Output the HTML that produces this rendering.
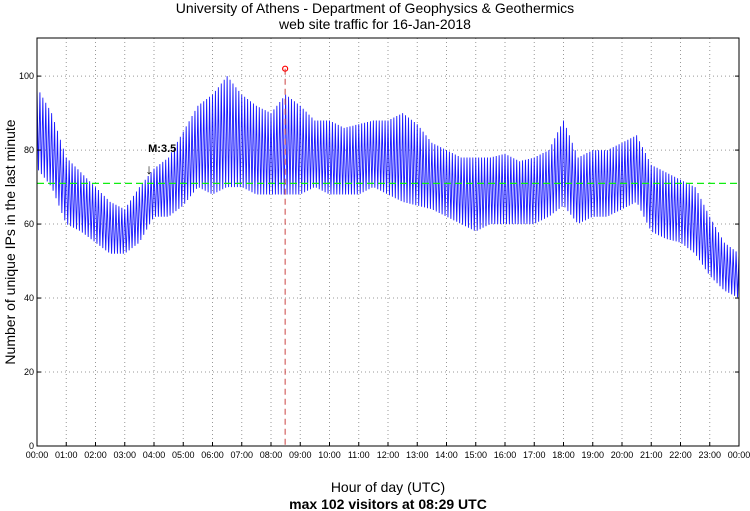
<!DOCTYPE html>
<html><head><meta charset="utf-8"><style>
body{margin:0;background:#fff;}
svg{display:block;font-family:"Liberation Sans",sans-serif;}
</style></head><body>
<svg id="c" width="750" height="511">
<text x="375" y="13" text-anchor="middle" font-size="14">University of Athens - Department of Geophysics &amp; Geothermics</text>
<text x="375" y="29" text-anchor="middle" font-size="14">web site traffic for 16-Jan-2018</text>
<text transform="translate(15,242) rotate(-90)" text-anchor="middle" font-size="14">Number of unique IPs in the last minute</text>
<text x="388" y="492" text-anchor="middle" font-size="14">Hour of day (UTC)</text>
<text x="388" y="509" text-anchor="middle" font-size="14" font-weight="bold">max 102 visitors at 08:29 UTC</text>
<g id="grid"></g><g id="series"></g><g id="overlay"></g><g id="axes"></g>
</svg>
<script>
const yTicks=[0,20,40,60,80,100];
const xTickLabels=["00:00","01:00","02:00","03:00","04:00","05:00","06:00","07:00","08:00","09:00","10:00","11:00","12:00","13:00","14:00","15:00","16:00","17:00","18:00","19:00","20:00","21:00","22:00","23:00","00:00"];
// half-hourly envelope of per-minute values (00:00 .. 24:00)
const lowVals=[75,70,60,58,55,52,52,55,62,62,65,70,68,70,70,68,68,68,68,70,68,68,68,70,68,66,65,64,62,60,58,60,60,60,60,62,65,60,62,62,64,66,58,56,55,52,46,42,40];
const highVals=[97,90,78,74,70,66,64,70,75,78,85,92,95,100,95,92,90,95,92,88,88,86,87,88,88,90,87,82,80,78,78,78,79,77,78,80,88,78,80,80,82,84,76,74,72,70,62,55,52];
const meanVal=71;
const maxMinute=8*60+29, maxVal=102;
const eventMinute=3*60+50, eventLabel="M:3.5";

const L=37,R=739,T=38,B=446,YMAX=110.3;
const xs=m=>L+(R-L)*m/1440, ys=v=>B-(B-T)*v/YMAX;
const NS="http://www.w3.org/2000/svg";
function mk(p,t,a){const e=document.createElementNS(NS,t);for(const k in a)e.setAttribute(k,a[k]);p.appendChild(e);return e;}
const grid=document.getElementById('grid'),axes=document.getElementById('axes'),ser=document.getElementById('series'),ov=document.getElementById('overlay');
yTicks.forEach(v=>{
 if(v>0){const g=mk(grid,'line',{x1:L,x2:R,y1:ys(v),y2:ys(v),stroke:'#999','stroke-dasharray':'1,3','stroke-width':1});
 
 }
 const t=mk(axes,'text',{x:L-3,y:ys(v)+3,'text-anchor':'end','font-size':9});t.textContent=v;
 
 
 mk(axes,'line',{x1:L,x2:L+4,y1:ys(v),y2:ys(v),stroke:'#000'});
 mk(axes,'line',{x1:R,x2:R-4,y1:ys(v),y2:ys(v),stroke:'#000'});
});
xTickLabels.forEach((s,i)=>{
 const x=xs(i*60);
 if(i>0&&i<24){const g=mk(grid,'line',{x1:x,x2:x,y1:T,y2:B,stroke:'#999','stroke-dasharray':'1,3'});
 
 }
 mk(axes,'line',{x1:x,x2:x,y1:B,y2:B-4,stroke:'#000'});
 const t=mk(axes,'text',{x:x,y:B+12,'text-anchor':'middle','font-size':9});t.textContent=s;
 
 
});
const frame=mk(axes,'rect',{x:L,y:T,width:R-L,height:B-T,fill:'none',stroke:'#000','stroke-width':1});


// series: per-minute zigzag within half-hourly envelope
let pts=[];
for(let m=0;m<=1440;m+=1){
 const f=m/30,i=Math.min(Math.floor(f),lowVals.length-2),u=f-i;
 const lo=lowVals[i]+(lowVals[i+1]-lowVals[i])*u, hi=highVals[i]+(highVals[i+1]-highVals[i])*u;
 const k=m%6; const v=k==0?hi:k==3?lo:k==1||k==5?lo+(hi-lo)*0.65:lo+(hi-lo)*0.3;
 pts.push(xs(m).toFixed(2)+','+ys(v).toFixed(1));
}
const line=mk(ser,'polyline',{points:pts.join(' '),fill:'none',stroke:'#0000ff','stroke-width':0.9,'stroke-opacity':0.9});


const mean=mk(ov,'line',{x1:L,x2:R,y1:ys(meanVal),y2:ys(meanVal),stroke:'#11ee11','stroke-dasharray':'7,4','stroke-width':1.3});


const vl=mk(ov,'line',{x1:xs(maxMinute),x2:xs(maxMinute),y1:ys(maxVal),y2:B,stroke:'#cc4444','stroke-dasharray':'6,4','stroke-width':1});


const mc=mk(ov,'circle',{cx:xs(maxMinute),cy:ys(maxVal),r:2.5,fill:'none',stroke:'#ff0000','stroke-width':1.2});


const et=mk(ov,'text',{x:xs(eventMinute)-1,y:ys(80)+2,'font-size':11,'font-weight':'bold'});et.textContent=eventLabel;


const ea=mk(ov,'text',{x:xs(eventMinute),y:ys(73.5),'font-size':14,'text-anchor':'middle'});ea.textContent='↓';


</script>
</body></html>
